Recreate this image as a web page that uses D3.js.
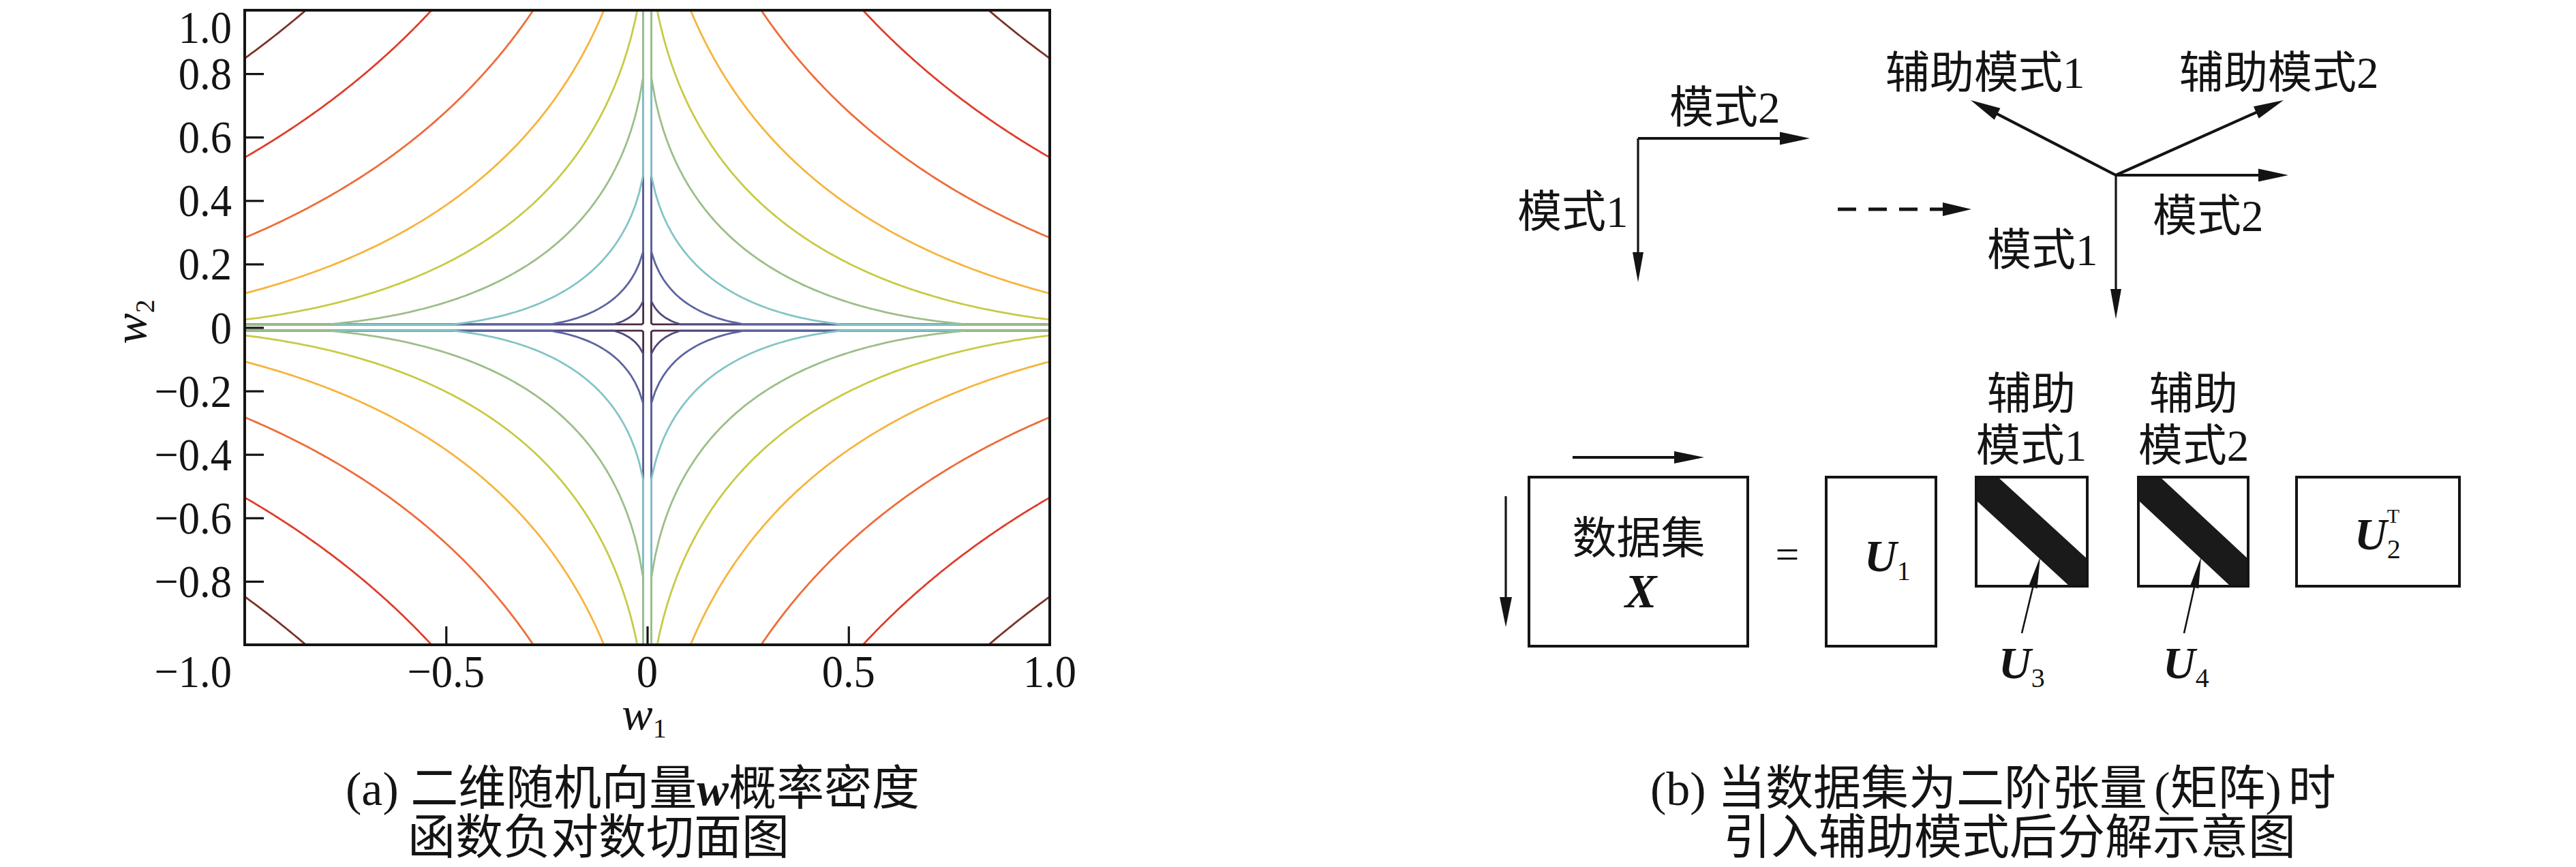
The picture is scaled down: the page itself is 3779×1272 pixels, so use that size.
<!DOCTYPE html>
<html><head><meta charset="utf-8">
<script src="https://cdn.jsdelivr.net/npm/d3@7"></script>
<style>html,body{margin:0;padding:0;background:#fff;} svg{display:block;}</style>
</head><body>
<svg id="chart" width="3779" height="1272"></svg>
<script>
// ---------------- data ----------------
// contour levels of f(w) = |w1|^p + |w2|^p (inner -> outer)
const contourLevels = [0.215, 0.388, 0.59, 0.793, 0.989, 1.157, 1.328, 1.532, 1.732, 1.921];
const contourColors = ["#4a2c44", "#524a80", "#5c659e", "#84c4c5", "#9cbe89", "#c8ca45", "#f6b43d", "#ee6c39", "#de3d2c", "#7a3426"];
const normExponent = 0.5;
const gridStep = 0.01;
const xTickValues = [-0.5, 0, 0.5];
const xTickLabels = ["\u22120.5", "0", "0.5", "1.0"];
const xTickLabelValues = [-0.5, 0, 0.5, 1.0];
const yTickValues = [-0.8, -0.6, -0.4, -0.2, 0, 0.2, 0.4, 0.6, 0.8];
const yTickLabelValues = [1.0, 0.8, 0.6, 0.4, 0.2, 0, -0.2, -0.4, -0.6, -0.8, -1.0];
const yTickLabels = ["1.0", "0.8", "0.6", "0.4", "0.2", "0", "\u22120.2", "\u22120.4", "\u22120.6", "\u22120.8", "\u22121.0"];

const SERIF = "'Liberation Serif','Noto Sans CJK SC',serif";
const INK = "#141414";
const svg = d3.select("#chart");

// ---------------- panel (a) ----------------
const L = 359, R = 1540, T = 15, B = 946;
const x = d3.scaleLinear().domain([-1, 1]).range([L, R]);
const y = d3.scaleLinear().domain([-1, 1]).range([B, T]);

svg.append("defs").append("clipPath").attr("id", "plotclip")
  .append("rect").attr("x", L).attr("y", T).attr("width", R - L).attr("height", B - T);

const n = Math.round(2 / gridStep) + 1;
const values = new Float64Array(n * n);
for (let j = 0; j < n; j++) {
  const w2 = 1 - j * gridStep;
  for (let i = 0; i < n; i++) {
    const w1 = -1 + i * gridStep;
    const onAxis = Math.abs(w1) < 1e-9 || Math.abs(w2) < 1e-9;
    values[j * n + i] = onAxis ? -1e9 : Math.pow(Math.abs(w1), normExponent) + Math.pow(Math.abs(w2), normExponent);
  }
}
const contours = d3.contours().size([n, n]).thresholds(contourLevels)(values);
const proj = d3.geoTransform({
  point: function (px, py) {
    this.stream.point(x(-1 + (px - 0.5) * gridStep), y(1 - (py - 0.5) * gridStep));
  }
});
const cpath = d3.geoPath(proj);
svg.append("g").attr("clip-path", "url(#plotclip)")
  .selectAll("path").data(contours).join("path")
  .attr("d", cpath).attr("fill", "none")
  .attr("stroke", (d, i) => contourColors[i]).attr("stroke-width", 2.8)
  .attr("stroke-linejoin", "round");

// axes (inward ticks)
const axL = svg.append("g").attr("transform", `translate(${L},0)`)
  .call(d3.axisLeft(y).tickValues(yTickValues).tickSize(-28).tickFormat(""));
const axB = svg.append("g").attr("transform", `translate(0,${B})`)
  .call(d3.axisBottom(x).tickValues(xTickValues).tickSize(-27).tickFormat(""));
[axL, axB].forEach(a => {
  a.select(".domain").remove();
  a.selectAll(".tick line").attr("stroke", INK).attr("stroke-width", 3.2);
});
svg.append("rect").attr("x", L).attr("y", T).attr("width", R - L).attr("height", B - T)
  .attr("fill", "none").attr("stroke", INK).attr("stroke-width", 4);

function numLabel(str, px, pyb, anchor) {
  svg.append("text").attr("transform", `translate(${px},${pyb}) scale(0.92,1)`)
    .attr("text-anchor", anchor).attr("font-family", SERIF).attr("font-size", 68)
    .attr("fill", INK).text(str);
}
yTickLabelValues.forEach((v, i) => {
  let yb = y(v) + 23;
  if (v === 1) yb = 63;
  if (v === -1) yb = 1008;
  numLabel(yTickLabels[i], 340, yb, "end");
});
xTickLabelValues.forEach((v, i) => {
  numLabel(xTickLabels[i], x(v), 1008, "middle");
});

// axis titles
const w1t = svg.append("text").attr("x", 945).attr("y", 1070).attr("text-anchor", "middle")
  .attr("font-family", SERIF).attr("fill", INK);
w1t.append("tspan").attr("font-style", "italic").attr("font-size", 68).text("w");
w1t.append("tspan").attr("font-size", 40).attr("dy", 12).text("1");
const w2t = svg.append("text").attr("transform", "translate(214,472) rotate(-90)").attr("text-anchor", "middle")
  .attr("font-family", SERIF).attr("fill", INK);
w2t.append("tspan").attr("font-style", "italic").attr("font-size", 68).text("w");
w2t.append("tspan").attr("font-size", 40).attr("dy", 12).text("2");

// caption (a)
const capA1 = svg.append("text").attr("x", 507).attr("y", 1181).attr("font-family", SERIF).attr("font-size", 70).attr("fill", INK);
capA1.append("tspan").text("(a) 二维随机向量");
capA1.append("tspan").attr("font-weight", "bold").attr("font-style", "italic").text("w");
capA1.append("tspan").text("概率密度");
svg.append("text").attr("x", 598).attr("y", 1253).attr("font-family", SERIF).attr("font-size", 70).attr("fill", INK).text("函数负对数切面图");

// ---------------- panel (b) ----------------
const gb = svg.append("g");
function arrow(x1, y1, x2, y2, sw, hl, hw, dash) {
  const dx = x2 - x1, dy = y2 - y1, len = Math.hypot(dx, dy), ux = dx / len, uy = dy / len;
  const bx = x2 - ux * hl, by = y2 - uy * hl;
  const ln = gb.append("line").attr("x1", x1).attr("y1", y1).attr("x2", bx + ux * 2).attr("y2", by + uy * 2)
    .attr("stroke", INK).attr("stroke-width", sw);
  if (dash) ln.attr("stroke-dasharray", dash);
  gb.append("path").attr("d", `M${x2},${y2}L${bx - uy * hw},${by + ux * hw}L${bx + uy * hw},${by - ux * hw}Z`).attr("fill", INK);
}
function label(str, px, pyb, anchor, size) {
  gb.append("text").attr("x", px).attr("y", pyb).attr("text-anchor", anchor || "start")
    .attr("font-family", SERIF).attr("font-size", size || 65).attr("fill", INK).text(str);
}
// upper left axes
arrow(2403, 203, 2655, 203, 4, 44, 9.5);
arrow(2403, 203, 2403, 414, 3.2, 44, 8);
label("模式2", 2449, 180);
label("模式1", 2226, 333);
// dashed arrow
arrow(2696, 307, 2892, 307, 5, 42, 10, "27,18");
// rotated axes
const ox = 3104, oy = 257;
arrow(ox, oy, 2891, 147, 4.2, 44, 9.5);
arrow(ox, oy, 3350, 147, 4.2, 44, 9.5);
arrow(ox, oy, 3357, 257, 4.2, 44, 9.5);
arrow(ox, oy, 3104, 468, 3.2, 44, 8);
label("辅助模式1", 2766, 129);
label("辅助模式2", 3197, 129);
label("模式2", 3158, 339);
label("模式1", 2915, 389);

// matrix decomposition
arrow(2307, 671, 2500, 671, 4, 44, 9);
arrow(2209, 728, 2209, 920, 3.2, 44, 9);
function box(bx, by, bw, bh) {
  gb.append("rect").attr("x", bx).attr("y", by).attr("width", bw).attr("height", bh)
    .attr("fill", "none").attr("stroke", INK).attr("stroke-width", 4);
}
function band(bx, by, bw, bh) {
  gb.append("path").attr("d",
    `M${bx},${by}L${bx + 32},${by}L${bx + bw},${by + bh - 40}L${bx + bw},${by + bh}L${bx + bw - 26},${by + bh}L${bx},${by + 34}Z`)
    .attr("fill", "#1a1a1a");
}
band(2899, 700, 163, 160);
band(3137, 700, 161, 160);
box(2243, 700, 321, 248);
box(2679, 700, 161, 248);
box(2899, 700, 163, 160);
box(3137, 700, 161, 160);
box(3369, 700, 239, 160);

label("数据集", 2404, 812, "middle");
gb.append("text").attr("x", 2407).attr("y", 891).attr("text-anchor", "middle").attr("font-family", SERIF)
  .attr("font-size", 70).attr("font-weight", "bold").attr("font-style", "italic").attr("fill", INK).text("X");
gb.append("text").attr("x", 2622).attr("y", 834).attr("text-anchor", "middle").attr("font-family", SERIF)
  .attr("font-size", 62).attr("fill", INK).text("=");

function uLabel(px, pyb, sub, sup) {
  const t = gb.append("text").attr("x", px).attr("y", pyb).attr("font-family", SERIF).attr("fill", INK);
  t.append("tspan").attr("font-size", 66).attr("font-weight", "bold").attr("font-style", "italic").text("U");
  t.append("tspan").attr("font-size", 40).attr("dy", 13).text(sub);
  if (sup) t.append("tspan").attr("font-size", 30).attr("dx", -20).attr("dy", -52).text(sup);
}
uLabel(2735, 838, "1");
uLabel(3454, 806, "2", "T");
uLabel(2932, 995, "3");
uLabel(3173, 995, "4");
arrow(2966, 929, 2993, 817, 2.6, 46, 6.5);
arrow(3204, 929, 3229, 817, 2.6, 46, 6.5);

label("辅助", 2980, 600, "middle");
label("模式1", 2980, 676, "middle");
label("辅助", 3218, 600, "middle");
label("模式2", 3218, 676, "middle");

// caption (b)
const capB1 = svg.append("text").attr("x", 2421).attr("y", 1181).attr("font-family", SERIF).attr("font-size", 70).attr("fill", INK);
capB1.append("tspan").text("(b) 当数据集为二阶张量");
capB1.append("tspan").attr("dx", 10).text("(矩阵)");
capB1.append("tspan").attr("dx", 10).text("时");
svg.append("text").attr("x", 2528).attr("y", 1253).attr("font-family", SERIF).attr("font-size", 70).attr("fill", INK).text("引入辅助模式后分解示意图");
</script>
</body></html>
